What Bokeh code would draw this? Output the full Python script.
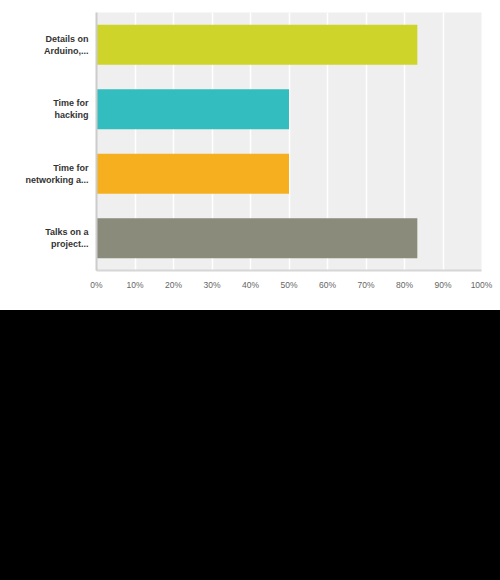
from bokeh.plotting import figure
from bokeh.models import ColumnDataSource, FactorRange, Div, FixedTicker
from bokeh.layouts import column
from bokeh.embed import file_html
from bokeh.resources import INLINE

categories = ["Details on\nArduino,...", "Time for\nhacking", "Time for\nnetworking a...", "Talks on a\nproject..."]
percent_values = [83.33, 50.0, 50.0, 83.33]
bar_colors = ["#cfd42a", "#33bdbf", "#f6b01f", "#8a8b7a"]
x_ticks = [0, 10, 20, 30, 40, 50, 60, 70, 80, 90, 100]
x_tick_labels = ["0%", "10%", "20%", "30%", "40%", "50%", "60%", "70%", "80%", "90%", "100%"]

source = ColumnDataSource(dict(cat=categories, val=percent_values, color=bar_colors))

p = figure(
    width=500, height=310,
    y_range=FactorRange(factors=list(reversed(categories)), range_padding=0),
    x_range=(0, 100),
    output_backend="svg", toolbar_location=None,
    min_border_left=96, min_border_right=19, min_border_top=12, min_border_bottom=40,
)
p.hbar(y="cat", right="val", left=0, height=0.62, color="color", line_color=None, source=source)

p.background_fill_color = "#efefef"
p.border_fill_color = "white"
p.outline_line_color = None

p.xgrid.grid_line_color = "white"
p.xgrid.grid_line_width = 1.5
p.ygrid.grid_line_color = None

p.xaxis.ticker = FixedTicker(ticks=x_ticks)
p.xaxis.major_label_overrides = {t: l for t, l in zip(x_ticks, x_tick_labels)}
p.xaxis.major_tick_line_color = None
p.xaxis.minor_tick_line_color = None
p.xaxis.axis_line_color = "#d6d6d6"
p.xaxis.axis_line_width = 2
p.xaxis.major_label_text_font = "Liberation Sans"
p.xaxis.major_label_text_font_size = "8.5px"
p.xaxis.major_label_text_color = "#666666"
p.xaxis.major_label_standoff = 3

p.yaxis.major_tick_line_color = None
p.yaxis.minor_tick_line_color = None
p.yaxis.axis_line_color = "#cccccc"
p.yaxis.axis_line_width = 2
p.yaxis.major_label_text_font = "Liberation Sans"
p.yaxis.major_label_text_font_style = "bold"
p.yaxis.major_label_text_font_size = "9px"
p.yaxis.major_label_text_color = "#333333"
p.yaxis.major_label_text_align = "right"
p.yaxis.major_label_standoff = 2

black = Div(width=500, height=270, margin=0, styles={"background-color": "black"})

layout = column(p, black, spacing=0)
open("out.html", "w").write(file_html(layout, INLINE))
